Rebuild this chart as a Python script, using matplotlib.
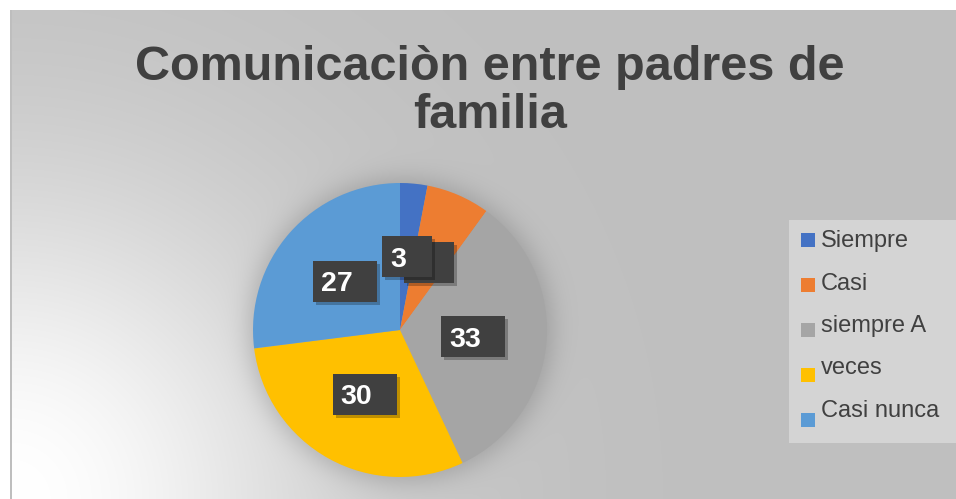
import numpy as np
import matplotlib
matplotlib.use("Agg")
import matplotlib.pyplot as plt
from matplotlib.patches import Rectangle
from matplotlib.transforms import ScaledTranslation

# ---- data ----
categories = ["Siempre", "Casi", "siempre A", "veces", "Casi nunca"]
values = [3, 7, 33, 30, 27]
colors = ["#4472C4", "#ED7D31", "#A5A5A5", "#FFC000", "#5B9BD5"]
title = "Comunicaciòn entre padres de\nfamilia"

plt.rcParams['font.family'] = ['Liberation Sans', 'DejaVu Sans']

W, H = 956, 499
fig = plt.figure(figsize=(W / 100, H / 100), dpi=100)

# ---- background (chart area with radial gradient + pie shadow) ----
yy, xx = np.mgrid[0:H, 0:W].astype(float)
d = np.hypot(xx - 10, yy - 499)
I = 191 + 64 * np.exp(-(d / 320.0) ** 2)
cx, cy, R = 400.0, 330.0, 147.0
r = np.hypot(xx - cx, yy - cy)
shadow = 0.5 * (1 - np.tanh((r - R - 5) / 15.0))
I = I * (1 - 0.18 * shadow)
I[(xx < 10) | (yy < 10)] = 255
I[((xx >= 10) & (xx < 12)) & (yy >= 10)] = 190
img = np.dstack([I, I, I]) / 255.0
bg = fig.add_axes([0, 0, 1, 1])
bg.imshow(img, extent=[0, W, H, 0], aspect='auto', interpolation='bilinear')
bg.set_xlim(0, W)
bg.set_ylim(H, 0)
bg.axis('off')

# ---- title ----
bg.text(490, 128, title, ha='center', va='baseline', fontsize=35,
        fontweight='bold', color='#404040', linespacing=1.08)

# ---- pie ----
ax = fig.add_axes([(cx - R) / W, (H - cy - R) / H, 2 * R / W, 2 * R / H])
wedges, _ = ax.pie(values, colors=colors, startangle=90, counterclock=False,
                   radius=1, wedgeprops=dict(linewidth=0))
ax.set_xlim(-1, 1)
ax.set_ylim(-1, 1)
ax.set_aspect('equal')
ax.axis('off')

# ---- data labels (dark boxes) ----
n = len(values)
for i, (w, v) in enumerate(zip(wedges, values)):
    z = 10 + 3 * (n - i)
    mid = np.deg2rad((w.theta1 + w.theta2) / 2)
    x, y = 0.5 * np.cos(mid), 0.5 * np.sin(mid)
    bw = 50 if v < 10 else 64
    bh = 41
    base = fig.dpi_scale_trans + ScaledTranslation(x, y, ax.transData)
    sh = Rectangle((-bw / 200 + 0.03, -bh / 200 - 0.03), bw / 100, bh / 100,
                   transform=base, facecolor='black', alpha=0.25, linewidth=0,
                   zorder=z)
    ax.add_artist(sh)
    box = Rectangle((-bw / 200, -bh / 200), bw / 100, bh / 100,
                    transform=base, facecolor='#404040', linewidth=0, zorder=z + 1)
    ax.add_artist(box)
    tt = ax.transData + ScaledTranslation(-bw / 200 + 0.08, -0.10, fig.dpi_scale_trans)
    ax.text(x, y, str(v), transform=tt, ha='left', va='baseline', fontsize=20.5,
            fontweight='bold', color='white', clip_on=False, zorder=z + 2)

# ---- legend ----
bg.add_patch(Rectangle((789, 220), 170, 223, facecolor='#d4d4d4', linewidth=0))
for i, (lab, c) in enumerate(zip(categories, colors)):
    sy = 240 + 45 * i
    bg.add_patch(Rectangle((801, sy - 7), 14, 14, facecolor=c, linewidth=0))
    bg.text(821, 247 + 42.5 * i, lab, ha='left', va='baseline', fontsize=17,
            color='#404040')

fig.savefig("out.png", dpi=100)
